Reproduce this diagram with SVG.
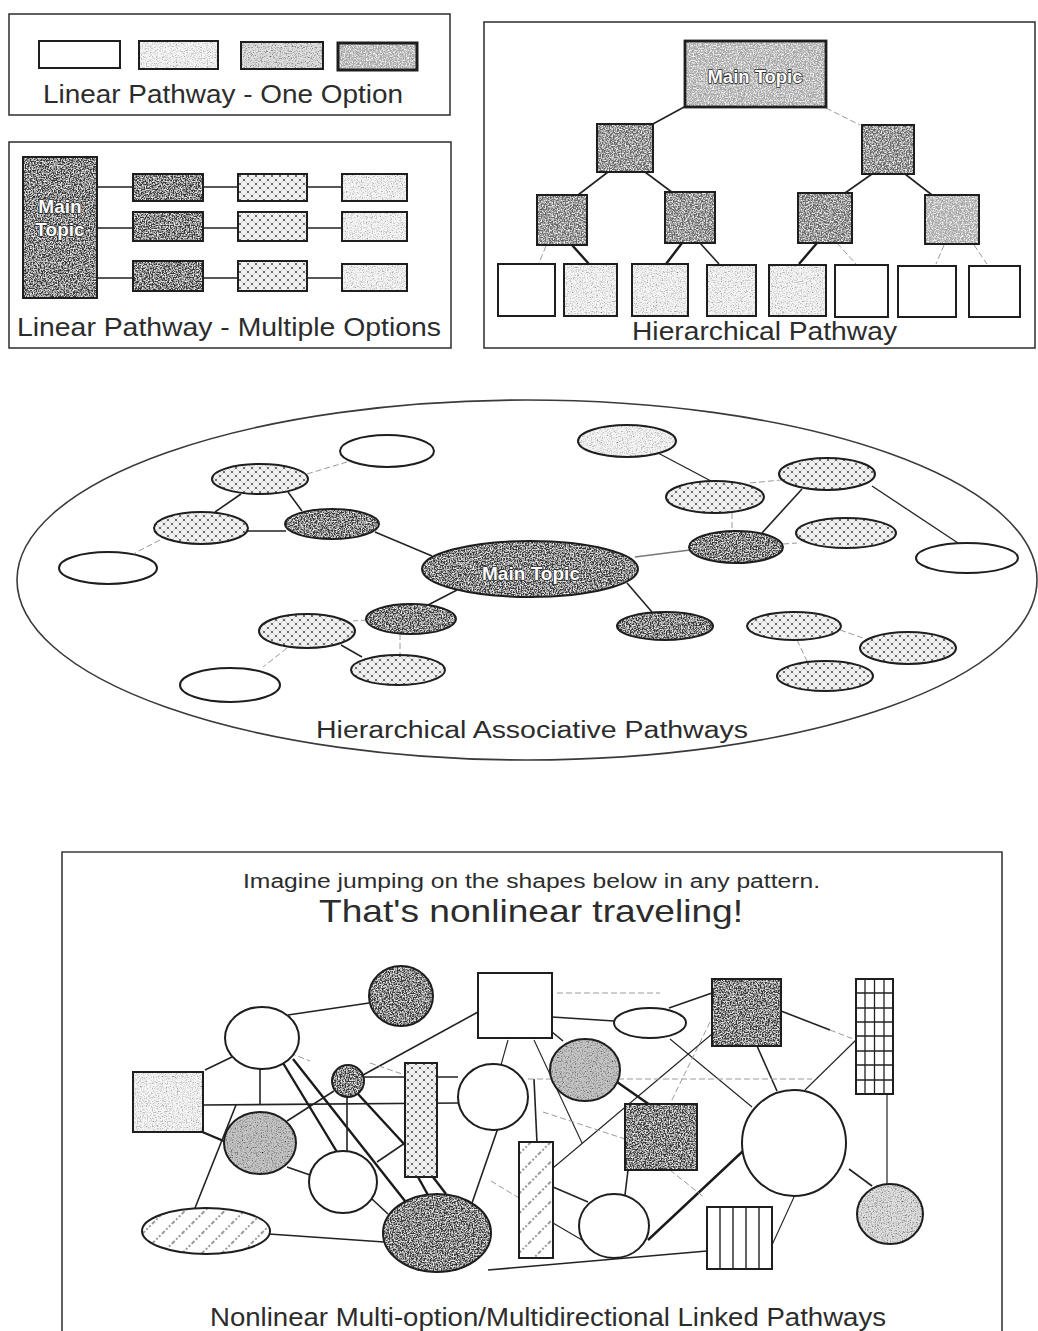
<svg xmlns="http://www.w3.org/2000/svg" width="1038" height="1331" viewBox="0 0 1038 1331">
  <style>
    .frame { fill: none; stroke: #3a3a3a; stroke-width: 1.6; }
    .nd { stroke: #1e1e1e; stroke-width: 2; }
    .k { stroke: #222; stroke-width: 1.6; fill: none; }
    .kb { stroke: #1a1a1a; stroke-width: 2.4; fill: none; }
    .f { stroke: #9a9a9a; stroke-width: 1; stroke-dasharray: 6 3; fill: none; }
    .lbl { font-family: "Liberation Sans", Arial, sans-serif; fill: #2c2c2c; }
    .wt { font-family: "Liberation Sans", Arial, sans-serif; font-weight: bold; fill: #ffffff; stroke: #2a2a2a; stroke-width: 1.6; paint-order: stroke; stroke-linejoin: round; }
    .white { fill: #ffffff; }
    .pale { fill: url(#pPale); }
    .light { fill: url(#pLight); }
    .silver { fill: url(#pSilver); }
    .grey { fill: url(#pGrey); }
    .mid { fill: url(#pMid); }
    .dark { fill: url(#pDark); }
    .dots { fill: url(#pDots); }
    .hatch { fill: url(#pHatch); }
  </style>
  <defs>
    <!-- grain: light specks over a darker fill -->
    <filter id="grainW" x="0" y="0" width="100%" height="100%">
      <feTurbulence type="fractalNoise" baseFrequency="0.75" numOctaves="2" seed="5" stitchTiles="stitch" result="n"/>
      <feColorMatrix in="n" type="matrix" values="0 0 0 0 1  0 0 0 0 1  0 0 0 0 1  2.6 0 0 0 -1.05" result="s"/>
      <feComposite in="s" in2="SourceAlpha" operator="in" result="c"/>
      <feMerge><feMergeNode in="SourceGraphic"/><feMergeNode in="c"/></feMerge>
    </filter>
    <!-- grain: dark specks over a pale fill -->
    <filter id="grainK" x="0" y="0" width="100%" height="100%">
      <feTurbulence type="fractalNoise" baseFrequency="0.8" numOctaves="2" seed="11" stitchTiles="stitch" result="n"/>
      <feColorMatrix in="n" type="matrix" values="0 0 0 0 0  0 0 0 0 0  0 0 0 0 0  2.2 0 0 0 -1.0" result="s"/>
      <feComposite in="s" in2="SourceAlpha" operator="in" result="c"/>
      <feMerge><feMergeNode in="SourceGraphic"/><feMergeNode in="c"/></feMerge>
    </filter>
    <pattern id="pDark" width="240" height="240" patternUnits="userSpaceOnUse">
      <rect width="240" height="240" fill="#383838" filter="url(#grainW)"/>
    </pattern>
    <pattern id="pMid" width="240" height="240" patternUnits="userSpaceOnUse">
      <rect width="240" height="240" fill="#666666" filter="url(#grainW)"/>
    </pattern>
    <pattern id="pGrey" width="240" height="240" patternUnits="userSpaceOnUse">
      <rect width="240" height="240" fill="#a4a4a4" filter="url(#grainW)"/>
    </pattern>
    <pattern id="pSilver" width="240" height="240" patternUnits="userSpaceOnUse">
      <rect width="240" height="240" fill="#c6c6c6" filter="url(#grainK)"/>
    </pattern>
    <pattern id="pLight" width="240" height="240" patternUnits="userSpaceOnUse">
      <rect width="240" height="240" fill="#e0e0e0" filter="url(#grainK)"/>
    </pattern>
    <pattern id="pPale" width="240" height="240" patternUnits="userSpaceOnUse">
      <rect width="240" height="240" fill="#f3f3f3" filter="url(#grainK)" opacity="0.7"/>
    </pattern>
    <pattern id="pDots" width="8" height="8" patternUnits="userSpaceOnUse">
      <rect width="8" height="8" fill="#f1f1f1"/>
      <path d="M0,0 L8,8 M8,0 L0,8" stroke="#bdbdbd" stroke-width="0.7"/>
      <circle cx="0" cy="0" r="1.1" fill="#555"/>
      <circle cx="8" cy="0" r="1.1" fill="#555"/>
      <circle cx="0" cy="8" r="1.1" fill="#555"/>
      <circle cx="8" cy="8" r="1.1" fill="#555"/>
      <circle cx="4" cy="4" r="1.1" fill="#555"/>
    </pattern>
    <pattern id="pHatch" width="14" height="14" patternUnits="userSpaceOnUse" patternTransform="rotate(45)">
      <rect width="14" height="14" fill="#ffffff"/>
      <line x1="7" y1="0" x2="7" y2="14" stroke="#555" stroke-width="1.2" stroke-dasharray="2 2"/>
    </pattern>
  </defs>

  <!-- ===== Linear Pathway - One Option ===== -->
  <g id="panel-linear-one">
    <rect class="frame" x="9" y="14" width="441" height="101"/>
    <g id="lo-box1"><rect class="nd white" x="39" y="41" width="81" height="27"/></g>
    <g id="lo-box2"><rect class="nd pale" x="139" y="41" width="79" height="28"/></g>
    <g id="lo-box3"><rect class="nd light" x="241" y="42" width="82" height="27"/></g>
    <g id="lo-box4"><rect class="nd grey" x="338" y="43" width="79" height="27" style="stroke-width:3"/></g>
    <text class="lbl" x="43" y="103" font-size="25" textLength="360" lengthAdjust="spacingAndGlyphs">Linear Pathway - One Option</text>
  </g>

  <!-- ===== Linear Pathway - Multiple Options ===== -->
  <g id="panel-linear-multi">
    <rect class="frame" x="9" y="142" width="442" height="206"/>
    <g id="lm-connectors">
      <path class="k" d="M97,187 H342 M97,228 H342 M97,278 H342"/>
    </g>
    <g id="lm-main">
      <rect class="nd dark" x="23" y="157" width="74" height="141"/>
      <text class="wt" x="60" y="213" font-size="19" text-anchor="middle">Main</text>
      <text class="wt" x="60" y="236" font-size="19" text-anchor="middle">Topic</text>
    </g>
    <g id="lm-r1a"><rect class="nd dark" x="133" y="174" width="70" height="27"/></g>
    <g id="lm-r2a"><rect class="nd dark" x="133" y="212" width="70" height="29"/></g>
    <g id="lm-r3a"><rect class="nd dark" x="133" y="261" width="70" height="30"/></g>
    <g id="lm-r1b"><rect class="nd dots" x="238" y="174" width="69" height="27"/></g>
    <g id="lm-r2b"><rect class="nd dots" x="238" y="212" width="69" height="29"/></g>
    <g id="lm-r3b"><rect class="nd dots" x="238" y="261" width="69" height="30"/></g>
    <g id="lm-r1c"><rect class="nd pale" x="342" y="174" width="65" height="27"/></g>
    <g id="lm-r2c"><rect class="nd pale" x="342" y="212" width="65" height="29"/></g>
    <g id="lm-r3c"><rect class="nd pale" x="342" y="264" width="65" height="27"/></g>
    <text class="lbl" x="17" y="336" font-size="25" textLength="424" lengthAdjust="spacingAndGlyphs">Linear Pathway - Multiple Options</text>
  </g>

  <!-- ===== Hierarchical Pathway ===== -->
  <g id="panel-hierarchical">
    <rect class="frame" x="484" y="22" width="551" height="326"/>
    <g id="hp-connectors">
      <line class="k" x1="686" y1="106" x2="651" y2="125"/>
      <line class="f" x1="826" y1="108" x2="860" y2="125"/>
      <line class="k" x1="608" y1="172" x2="578" y2="195"/>
      <line class="k" x1="645" y1="172" x2="673" y2="193"/>
      <line class="k" x1="872" y1="174" x2="845" y2="193"/>
      <line class="k" x1="905" y1="174" x2="932" y2="195"/>
      <line class="f" x1="546" y1="246" x2="539" y2="263"/>
      <line class="kb" x1="572" y1="245" x2="589" y2="264"/>
      <line class="kb" x1="682" y1="243" x2="666" y2="264"/>
      <line class="k" x1="700" y1="243" x2="719" y2="264"/>
      <line class="kb" x1="817" y1="243" x2="799" y2="264"/>
      <line class="f" x1="837" y1="243" x2="856" y2="264"/>
      <line class="f" x1="944" y1="245" x2="936" y2="264"/>
      <line class="f" x1="974" y1="245" x2="987" y2="264"/>
    </g>
    <g id="hp-main">
      <rect class="nd grey" x="685" y="41" width="141" height="66" style="stroke-width:2.8"/>
      <text class="wt" x="755" y="83" font-size="19" text-anchor="middle" textLength="95" lengthAdjust="spacingAndGlyphs">Main Topic</text>
    </g>
    <g id="hp-l1"><rect class="nd mid" x="597" y="124" width="56" height="48"/></g>
    <g id="hp-r1"><rect class="nd mid" x="862" y="125" width="52" height="49"/></g>
    <g id="hp-a"><rect class="nd mid" x="537" y="195" width="50" height="50"/></g>
    <g id="hp-b"><rect class="nd mid" x="665" y="192" width="50" height="51"/></g>
    <g id="hp-c"><rect class="nd mid" x="798" y="193" width="54" height="50"/></g>
    <g id="hp-d"><rect class="nd grey" x="925" y="195" width="54" height="49"/></g>
    <g id="hp-leaf1"><rect class="nd white" x="498" y="264" width="57" height="52"/></g>
    <g id="hp-leaf2"><rect class="nd pale" x="564" y="264" width="53" height="52"/></g>
    <g id="hp-leaf3"><rect class="nd pale" x="632" y="264" width="56" height="52"/></g>
    <g id="hp-leaf4"><rect class="nd pale" x="707" y="265" width="49" height="51"/></g>
    <g id="hp-leaf5"><rect class="nd pale" x="769" y="265" width="57" height="51"/></g>
    <g id="hp-leaf6"><rect class="nd white" x="835" y="265" width="53" height="52"/></g>
    <g id="hp-leaf7"><rect class="nd white" x="898" y="266" width="58" height="51"/></g>
    <g id="hp-leaf8"><rect class="nd white" x="969" y="266" width="51" height="51"/></g>
    <text class="lbl" x="632" y="340" font-size="25" textLength="265" lengthAdjust="spacingAndGlyphs">Hierarchical Pathway</text>
  </g>

  <!-- ===== Hierarchical Associative Pathways ===== -->
  <g id="panel-associative">
    <ellipse class="frame" cx="527" cy="580" rx="510" ry="180"/>
    <g id="ha-connectors">
      <line class="f" x1="307" y1="474" x2="347" y2="462"/>
      <line class="k" x1="241" y1="494" x2="215" y2="512"/>
      <line class="k" x1="288" y1="492" x2="302" y2="511"/>
      <line class="k" x1="248" y1="531" x2="286" y2="531"/>
      <line class="f" x1="160" y1="540" x2="135" y2="553"/>
      <line class="k" x1="375" y1="532" x2="432" y2="556"/>
      <line class="k" x1="457" y1="590" x2="428" y2="605"/>
      <line class="f" x1="367" y1="620" x2="353" y2="621"/>
      <line class="f" x1="400" y1="634" x2="400" y2="655"/>
      <line class="k" x1="341" y1="645" x2="362" y2="657"/>
      <line class="f" x1="287" y1="648" x2="263" y2="667"/>
      <line class="k" x1="635" y1="557" x2="690" y2="550" style="stroke:#777"/>
      <line class="k" x1="627" y1="583" x2="652" y2="612"/>
      <line class="k" x1="658" y1="453" x2="711" y2="481" style="stroke-width:1.2"/>
      <line class="f" x1="750" y1="483" x2="781" y2="480"/>
      <line class="f" x1="732" y1="513" x2="732" y2="531"/>
      <line class="k" x1="802" y1="489" x2="762" y2="533"/>
      <line class="f" x1="783" y1="544" x2="797" y2="543"/>
      <line class="k" x1="872" y1="486" x2="958" y2="543" style="stroke-width:1.3"/>
      <line class="f" x1="840" y1="630" x2="863" y2="638"/>
      <line class="f" x1="797" y1="640" x2="807" y2="661"/>
    </g>
    <g id="ha-e1"><ellipse class="nd white" cx="387" cy="451" rx="47" ry="16"/></g>
    <g id="ha-e2"><ellipse class="nd dots" cx="260" cy="479" rx="48" ry="15"/></g>
    <g id="ha-e3"><ellipse class="nd dots" cx="201" cy="528" rx="47" ry="16"/></g>
    <g id="ha-e4"><ellipse class="nd dark" cx="332" cy="524" rx="47" ry="15"/></g>
    <g id="ha-e5"><ellipse class="nd white" cx="108" cy="568" rx="49" ry="16"/></g>
    <g id="ha-main">
      <ellipse class="nd dark" cx="530" cy="569" rx="108" ry="28"/>
      <text class="wt" x="531" y="580" font-size="19" text-anchor="middle" textLength="98" lengthAdjust="spacingAndGlyphs">Main Topic</text>
    </g>
    <g id="ha-e6"><ellipse class="nd dark" cx="411" cy="619" rx="45" ry="15"/></g>
    <g id="ha-e7"><ellipse class="nd dots" cx="307" cy="631" rx="48" ry="17"/></g>
    <g id="ha-e8"><ellipse class="nd dots" cx="398" cy="670" rx="47" ry="15"/></g>
    <g id="ha-e9"><ellipse class="nd white" cx="230" cy="685" rx="50" ry="17"/></g>
    <g id="ha-e10"><ellipse class="nd dark" cx="665" cy="626" rx="48" ry="14"/></g>
    <g id="ha-e11"><ellipse class="nd pale" cx="627" cy="441" rx="49" ry="16"/></g>
    <g id="ha-e12"><ellipse class="nd dots" cx="715" cy="497" rx="49" ry="16"/></g>
    <g id="ha-e13"><ellipse class="nd dots" cx="827" cy="474" rx="48" ry="16"/></g>
    <g id="ha-e14"><ellipse class="nd dark" cx="736" cy="547" rx="47" ry="16"/></g>
    <g id="ha-e15"><ellipse class="nd dots" cx="846" cy="533" rx="50" ry="15"/></g>
    <g id="ha-e16"><ellipse class="nd white" cx="967" cy="558" rx="51" ry="15"/></g>
    <g id="ha-e17"><ellipse class="nd dots" cx="794" cy="626" rx="47" ry="14"/></g>
    <g id="ha-e18"><ellipse class="nd dots" cx="908" cy="648" rx="48" ry="16"/></g>
    <g id="ha-e19"><ellipse class="nd dots" cx="825" cy="676" rx="48" ry="15"/></g>
    <text class="lbl" x="316" y="738" font-size="23" textLength="432" lengthAdjust="spacingAndGlyphs">Hierarchical Associative Pathways</text>
  </g>

  <!-- ===== Nonlinear Multi-option / Multidirectional Linked Pathways ===== -->
  <g id="panel-nonlinear">
    <path class="frame" d="M62,1331 V852 H1002 V1331"/>
    <text class="lbl" x="243" y="888" font-size="20" textLength="577" lengthAdjust="spacingAndGlyphs">Imagine jumping on the shapes below in any pattern.</text>
    <text class="lbl" x="319" y="922" font-size="32" textLength="424" lengthAdjust="spacingAndGlyphs">That's nonlinear traveling!</text>

    <g id="nl-connectors">
      <line class="k" x1="288" y1="1015" x2="369" y2="1003"/>
      <line class="k" x1="232" y1="1057" x2="205" y2="1070"/>
      <line class="k" x1="260" y1="1069" x2="260" y2="1105"/>
      <line class="k" x1="203" y1="1105" x2="458" y2="1103"/>
      <line class="kb" x1="283" y1="1063" x2="337" y2="1152"/>
      <line class="kb" x1="293" y1="1059" x2="405" y2="1201"/>
      <line class="k" x1="363" y1="1075" x2="478" y2="1012"/>
      <line class="k" x1="334" y1="1091" x2="287" y2="1121"/>
      <line class="k" x1="364" y1="1077" x2="458" y2="1077"/>
      <line class="k" x1="347" y1="1097" x2="347" y2="1151"/>
      <line class="kb" x1="358" y1="1094" x2="405" y2="1145"/>
      <line class="k" x1="377" y1="1162" x2="405" y2="1143"/>
      <line class="kb" x1="418" y1="1177" x2="428" y2="1195"/>
      <line class="kb" x1="433" y1="1177" x2="446" y2="1194"/>
      <line class="k" x1="372" y1="1199" x2="388" y2="1214"/>
      <line class="k" x1="287" y1="1167" x2="310" y2="1175"/>
      <line class="kb" x1="200" y1="1131" x2="226" y2="1142"/>
      <line class="k" x1="195" y1="1208" x2="236" y2="1105"/>
      <line class="k" x1="269" y1="1234" x2="384" y2="1242"/>
      <line class="k" x1="498" y1="1128" x2="472" y2="1203"/>
      <line class="k" x1="552" y1="1017" x2="614" y2="1021"/>
      <line class="k" x1="669" y1="1008" x2="712" y2="993"/>
      <line class="k" x1="781" y1="1011" x2="830" y2="1030"/>
      <line class="f" x1="830" y1="1030" x2="856" y2="1040"/>
      <line class="k" x1="757" y1="1046" x2="777" y2="1091"/>
      <line class="k" x1="805" y1="1090" x2="856" y2="1040" style="stroke-width:1.1"/>
      <line class="k" x1="887" y1="1094" x2="887" y2="1184" style="stroke-width:1.2"/>
      <line class="k" x1="849" y1="1169" x2="872" y2="1186"/>
      <line class="k" x1="794" y1="1197" x2="772" y2="1245" style="stroke-width:1.1"/>
      <line class="kb" x1="743" y1="1151" x2="648" y2="1240"/>
      <line class="k" x1="707" y1="1251" x2="488" y2="1270"/>
      <line class="k" x1="552" y1="1032" x2="563" y2="1041"/>
      <line class="kb" x1="617" y1="1082" x2="650" y2="1105"/>
      <line class="k" x1="670" y1="1039" x2="752" y2="1107" style="stroke-width:1.1"/>
      <line class="k" x1="712" y1="1034" x2="553" y2="1168" style="stroke-width:1.1"/>
      <line class="k" x1="534" y1="1040" x2="582" y2="1143" style="stroke-width:1.1"/>
      <line class="k" x1="508" y1="1040" x2="501" y2="1065" style="stroke-width:1.1"/>
      <line class="k" x1="534" y1="1079" x2="537" y2="1143"/>
      <line class="k" x1="553" y1="1187" x2="588" y2="1202"/>
      <line class="k" x1="553" y1="1223" x2="582" y2="1240" style="stroke-width:1.1"/>
      <line class="k" x1="628" y1="1170" x2="625" y2="1195"/>
      <line class="f" x1="557" y1="993" x2="660" y2="993"/>
      <line class="f" x1="528" y1="1079" x2="812" y2="1079"/>
      <line class="f" x1="710" y1="1022" x2="670" y2="1104"/>
      <line class="f" x1="670" y1="1170" x2="705" y2="1198"/>
      <line class="f" x1="491" y1="1181" x2="519" y2="1198"/>
      <line class="f" x1="543" y1="1112" x2="625" y2="1139"/>
      <line class="f" x1="370" y1="1063" x2="405" y2="1075"/>
      <line class="f" x1="290" y1="1053" x2="310" y2="1061"/>
    </g>

    <g id="nl-s1"><rect class="nd pale" x="133" y="1072" width="70" height="60"/></g>
    <g id="nl-c1"><ellipse class="nd white" cx="262" cy="1038" rx="37" ry="31"/></g>
    <g id="nl-d1"><ellipse class="nd dark" cx="401" cy="996" rx="32" ry="30"/></g>
    <g id="nl-s2"><rect class="nd white" x="478" y="973" width="74" height="65"/></g>
    <g id="nl-d2"><circle class="nd dark" cx="348" cy="1081" r="16"/></g>
    <g id="nl-r1"><rect class="nd dots" x="405" y="1063" width="32" height="114"/></g>
    <g id="nl-c2"><ellipse class="nd white" cx="493" cy="1097" rx="35" ry="33"/></g>
    <g id="nl-c3"><ellipse class="nd silver" cx="260" cy="1143" rx="36" ry="31"/></g>
    <g id="nl-c4"><ellipse class="nd white" cx="343" cy="1182" rx="34" ry="31"/></g>
    <g id="nl-h1"><ellipse class="nd hatch" cx="206" cy="1231" rx="64" ry="23"/></g>
    <g id="nl-d3"><ellipse class="nd dark" cx="437" cy="1233" rx="54" ry="39"/></g>
    <g id="nl-o1"><ellipse class="nd white" cx="650" cy="1023" rx="36" ry="15"/></g>
    <g id="nl-ds1"><rect class="nd dark" x="712" y="979" width="69" height="67"/></g>
    <g id="nl-g1">
      <rect class="nd white" x="856" y="979" width="37" height="115"/>
      <path class="k" style="stroke-width:1.3" d="M865,979 V1094 M874.5,979 V1094 M884,979 V1094 M856,993 H893 M856,1008 H893 M856,1022 H893 M856,1036 H893 M856,1051 H893 M856,1065 H893 M856,1080 H893"/>
    </g>
    <g id="nl-c5"><ellipse class="nd silver" cx="585" cy="1070" rx="35" ry="31"/></g>
    <g id="nl-ds2"><rect class="nd dark" x="625" y="1104" width="72" height="66"/></g>
    <g id="nl-c6"><ellipse class="nd white" cx="794" cy="1143" rx="52" ry="53"/></g>
    <g id="nl-h2"><rect class="nd hatch" x="519" y="1142" width="34" height="116"/></g>
    <g id="nl-c7"><ellipse class="nd white" cx="614" cy="1226" rx="35" ry="32"/></g>
    <g id="nl-vs">
      <rect class="nd white" x="707" y="1207" width="65" height="62"/>
      <path class="k" style="stroke-width:1.4" d="M720,1207 V1269 M733,1207 V1269 M746,1207 V1269 M759,1207 V1269"/>
    </g>
    <g id="nl-c8"><ellipse class="nd light" cx="890" cy="1214" rx="33" ry="30"/></g>

    <text class="lbl" x="210" y="1326" font-size="25" textLength="676" lengthAdjust="spacingAndGlyphs">Nonlinear Multi-option/Multidirectional Linked Pathways</text>
  </g>
</svg>
